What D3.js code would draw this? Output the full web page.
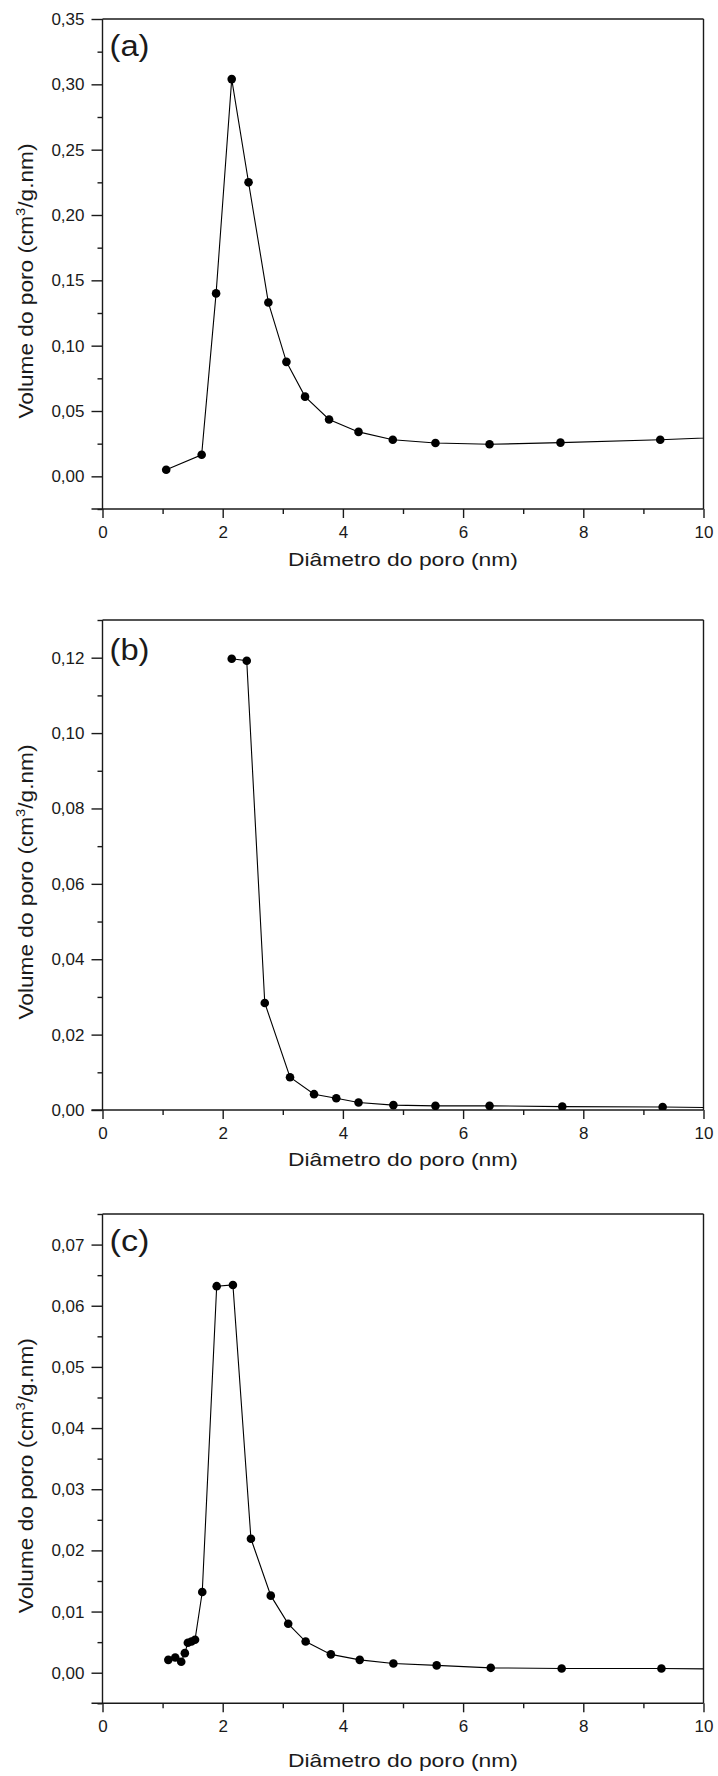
<!DOCTYPE html>
<html><head><meta charset="utf-8">
<script src="https://cdn.jsdelivr.net/npm/d3@7"></script>
<style>body{margin:0;background:#fff} svg{display:block}</style>
</head><body>
<svg id="chart" width="718" height="1776"></svg>
<script>
// ---------- data ----------
const xMajorTicks = [0, 2, 4, 6, 8, 10];
const xMinorTicks = [1, 3, 5, 7, 9];
const panelLabels = ["(a)", "(b)", "(c)"];
const xTitleText = "Diâmetro do poro (nm)";

// panel (a)
const aDiam = [1.06, 1.65, 1.89, 2.15, 2.43, 2.76, 3.06, 3.37, 3.77, 4.26, 4.83, 5.54, 6.44, 7.62, 9.28, 11.2];
const aVol  = [0.005, 0.0165, 0.140, 0.304, 0.225, 0.133, 0.0876, 0.061, 0.0435, 0.034, 0.028, 0.0255, 0.0245, 0.0258, 0.028, 0.0316];
const aYMajor = [0, 0.05, 0.10, 0.15, 0.20, 0.25, 0.30, 0.35];
const aYMinor = [-0.025, 0.025, 0.075, 0.125, 0.175, 0.225, 0.275, 0.325];

// panel (b)
const bDiam = [2.15, 2.40, 2.70, 3.12, 3.52, 3.89, 4.26, 4.84, 5.54, 6.44, 7.65, 9.32, 11.2];
const bVol  = [0.1197, 0.1192, 0.0284, 0.0087, 0.0042, 0.0031, 0.0020, 0.0013, 0.0011, 0.0011, 0.0009, 0.0008, 0.0004];
const bYMajor = [0, 0.02, 0.04, 0.06, 0.08, 0.10, 0.12];
const bYMinor = [0.01, 0.03, 0.05, 0.07, 0.09, 0.11, 0.13];

// panel (c)
const cDiam = [1.095, 1.21, 1.31, 1.37, 1.42, 1.48, 1.54, 1.66, 1.90, 2.17, 2.47, 2.80, 3.09, 3.38, 3.80, 4.28, 4.84, 5.56, 6.46, 7.64, 9.30, 11.2];
const cVol  = [0.0021, 0.0025, 0.0018, 0.0032, 0.0049, 0.0051, 0.0054, 0.0132, 0.0632, 0.0634, 0.0219, 0.0126, 0.0080, 0.0051, 0.0030, 0.0021, 0.0015, 0.0012, 0.0008, 0.0007, 0.0007, 0.0005];
const cYMajor = [0, 0.01, 0.02, 0.03, 0.04, 0.05, 0.06, 0.07];
const cYMinor = [-0.005, 0.005, 0.015, 0.025, 0.035, 0.045, 0.055, 0.065, 0.075];

// ---------- layout ----------
const svg = d3.select("#chart");
const left = 102.5, right = 703.5;
const FONT = "'Liberation Sans', Arial, Helvetica, sans-serif";
const INK = "#1a1a1a";

const panels = [
  {diam: aDiam, vol: aVol, yDomain: [-0.025, 0.35], major: aYMajor, minor: aYMinor, top: 19, bottom: 509, xTitleY: 566, labelY: 56},
  {diam: bDiam, vol: bVol, yDomain: [0, 0.13], major: bYMajor, minor: bYMinor, top: 620, bottom: 1110, xTitleY: 1166, labelY: 660},
  {diam: cDiam, vol: cVol, yDomain: [-0.005, 0.075], major: cYMajor, minor: cYMinor, top: 1214, bottom: 1703.3, xTitleY: 1767, labelY: 1251}
];

const fmt = v => d3.format(".2f")(v).replace(".", ",");

function stretchTo(sel, target) {
  const n = sel.node().getComputedTextLength();
  return target / n;
}

panels.forEach((p, i) => {
  const x = d3.scaleLinear().domain([0, 10]).range([left, right]);
  const y = d3.scaleLinear().domain(p.yDomain).range([p.bottom, p.top]);
  const g = svg.append("g");

  const clipId = "clip" + i;
  svg.append("clipPath").attr("id", clipId).append("rect")
    .attr("x", left).attr("y", p.top).attr("width", right - left).attr("height", p.bottom - p.top);

  // frame (top & right)
  g.append("line").attr("x1", left).attr("x2", right).attr("y1", p.top).attr("y2", p.top)
    .attr("stroke", INK).attr("stroke-width", 1.4);
  g.append("line").attr("x1", right).attr("x2", right).attr("y1", p.top).attr("y2", p.bottom)
    .attr("stroke", INK).attr("stroke-width", 1.4);

  // x axis
  const xAxisMajor = d3.axisBottom(x).tickValues(xMajorTicks).tickSize(9).tickPadding(8).tickFormat(d3.format("d"));
  const xAxisMinor = d3.axisBottom(x).tickValues(xMinorTicks).tickSize(5).tickFormat("");
  const gx = g.append("g").attr("transform", `translate(0,${p.bottom})`).call(xAxisMajor);
  g.append("g").attr("transform", `translate(0,${p.bottom})`).call(xAxisMinor).select(".domain").remove();
  gx.select(".domain").attr("d", `M${left - 11},0H${right}`);

  // y axis
  const yAxisMajor = d3.axisLeft(y).tickValues(p.major).tickSize(11).tickPadding(7).tickFormat(fmt);
  const yAxisMinor = d3.axisLeft(y).tickValues(p.minor).tickSize(5).tickFormat("");
  const gy = g.append("g").attr("transform", `translate(${left},0)`).call(yAxisMajor);
  g.append("g").attr("transform", `translate(${left},0)`).call(yAxisMinor).select(".domain").remove();
  gy.select(".domain").attr("d", `M0,${p.bottom}V${p.top}`);

  g.selectAll(".domain, .tick line").attr("stroke", INK).attr("stroke-width", 1.4);
  g.selectAll(".tick text").attr("font-family", FONT).attr("font-size", 17).attr("fill", INK);

  // line + markers
  const pts = p.diam.map((d, k) => [d, p.vol[k]]);
  const line = d3.line().x(d => x(d[0])).y(d => y(d[1])).curve(d3.curveLinear);
  const plot = g.append("g").attr("clip-path", `url(#${clipId})`);
  plot.append("path").datum(pts).attr("d", line).attr("fill", "none").attr("stroke", "#000").attr("stroke-width", 1.1);
  plot.selectAll("circle").data(pts.filter(d => d[0] <= 10)).join("circle")
    .attr("cx", d => x(d[0])).attr("cy", d => y(d[1])).attr("r", 4.3).attr("fill", "#000");

  // panel label
  const lab = g.append("text").attr("x", left + 7).attr("y", p.labelY)
    .attr("font-family", FONT).attr("font-size", 29).attr("fill", INK).text(panelLabels[i]);
  const s0 = stretchTo(lab, 40);
  lab.attr("transform", `translate(${left + 7},${p.labelY}) scale(${s0},1) translate(${-(left + 7)},${-p.labelY})`);

  // x title
  const cx = (left + right) / 2;
  const xt = g.append("text").attr("x", 0).attr("y", 0).attr("text-anchor", "middle")
    .attr("font-family", FONT).attr("font-size", 19).attr("fill", INK).text(xTitleText);
  const s1 = stretchTo(xt, 230);
  xt.attr("transform", `translate(${cx},${p.xTitleY}) scale(${s1},1)`);

  // y title
  const cy = (p.top + p.bottom) / 2 + 17;
  const yt = g.append("text").attr("x", 0).attr("y", 0).attr("text-anchor", "middle")
    .attr("font-family", FONT).attr("font-size", 20).attr("fill", INK);
  yt.append("tspan").text("Volume do poro (cm");
  yt.append("tspan").attr("dy", -8).attr("font-size", 13).text("3");
  yt.append("tspan").attr("dy", 8).text("/g.nm)");
  const s2 = stretchTo(yt, 275);
  yt.attr("transform", `translate(33,${cy}) rotate(-90) scale(${s2},1)`);
});
</script>
</body></html>
